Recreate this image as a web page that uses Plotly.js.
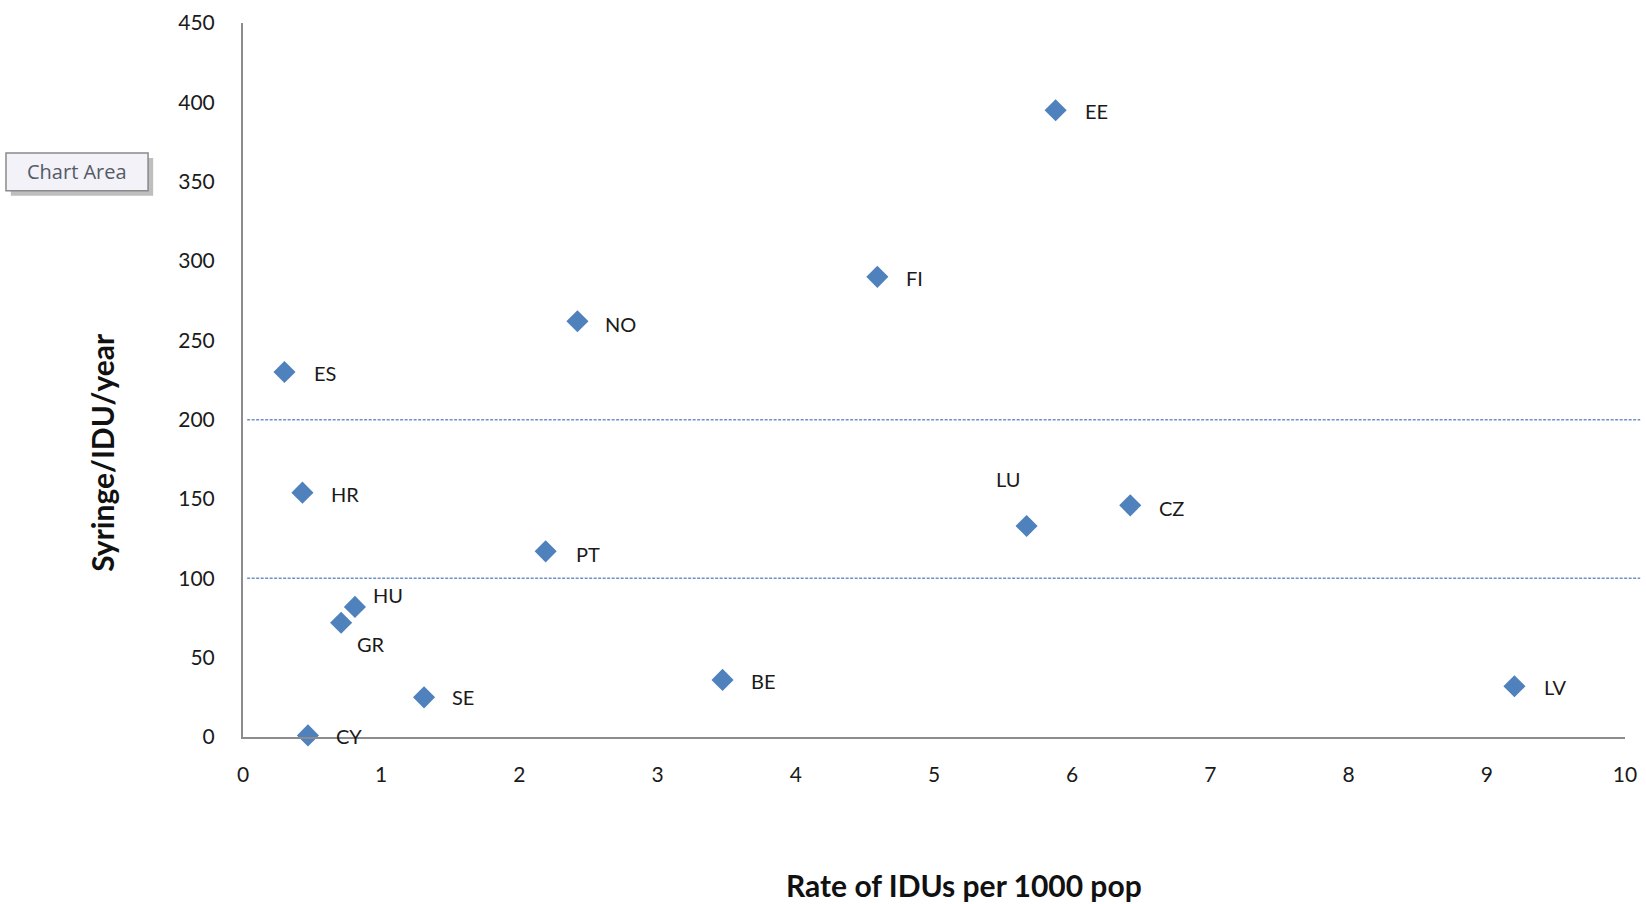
<!DOCTYPE html>
<html>
<head>
<meta charset="utf-8">
<script src="https://cdn.plot.ly/plotly-3.0.1.min.js"></script>
<style>html,body{margin:0;padding:0;background:#fff;}#chart{width:1646px;height:904px;}</style>
</head>
<body>
<div id="chart"></div>
<script>
// Data
const countries = ["EE","FI","NO","ES","HR","PT","HU","GR","SE","CY","BE","LU","CZ","LV"];
const idusPer1000 = [5.88, 4.59, 2.42, 0.30, 0.43, 2.19, 0.81, 0.71, 1.31, 0.47, 3.47, 5.67, 6.42, 9.20];
const syringesPerIdu = [395, 290, 262, 230, 154, 117, 82, 72, 25, 1, 36, 133, 146, 32];
const thresholds = [200, 100];
const xTicks = [0,1,2,3,4,5,6,7,8,9,10];
const yTicks = [0,50,100,150,200,250,300,350,400,450];
const xTitle = "Rate of IDUs per 1000 pop";
const yTitle = "Syringe/IDU/year";

// Label placement (styling only): [xshift px, yshift px, xanchor]
const labelPlacement = {
  EE:[27,-1,"left"], FI:[27,-1,"left"], NO:[26,-3,"left"], ES:[28,-1,"left"],
  HR:[27,-1,"left"], PT:[28,-3,"left"], HU:[16,12,"left"], GR:[14,-21,"left"],
  SE:[26,0,"left"], CY:[26,-1,"left"], BE:[26,-1,"left"], LU:[-19,47,"center"],
  CZ:[27,-3,"left"], LV:[28,-1,"left"]
};

const labelFont = {family:"Lato, 'Open Sans', sans-serif", size:20, color:"#1a1a1a"};
const titleFont = {family:"Lato, sans-serif", size:30, color:"#111", weight:"bold"};

const annotations = countries.map((c,i)=>{
  const p = labelPlacement[c];
  return {x:idusPer1000[i], y:syringesPerIdu[i], xref:"x", yref:"y", text:c,
    showarrow:false, xanchor:p[2], yanchor:"middle", xshift:p[0], yshift:p[1], font:labelFont};
});

// Axis titles (positioned as in the reference)
annotations.push({xref:"paper", yref:"paper", x:0.5217, y:-0.2073, text:xTitle, showarrow:false,
  xanchor:"center", yanchor:"middle", font:titleFont});
annotations.push({xref:"paper", yref:"paper", x:-0.102, y:0.398, text:yTitle, showarrow:false,
  textangle:-90, xanchor:"center", yanchor:"middle", font:titleFont});

// "Chart Area" tooltip text
annotations.push({xref:"paper", yref:"paper", x:-0.1201, y:0.7915,
  text:"Chart Area", showarrow:false, xanchor:"center", yanchor:"middle",
  font:{family:"'Open Sans', sans-serif", size:20, color:"#555a66"}});

const shapes = thresholds.map(t=>({type:"line", xref:"paper", x0:0.003, x1:1.011, yref:"y", y0:t, y1:t,
  line:{color:"#6f92c9", width:1.5, dash:"3px,1.5px"}}));
// tooltip box shadow and box
shapes.push({type:"rect", xref:"paper", yref:"paper", x0:-0.1680, x1:-0.0650, y0:0.7580, y1:0.8110,
  fillcolor:"rgba(110,110,110,0.45)", line:{width:0}, layer:"above"});
shapes.push({type:"rect", xref:"paper", yref:"paper", x0:-0.1715, x1:-0.0687, y0:0.7650, y1:0.8180,
  fillcolor:"#f2f2f8", line:{color:"#8a8a8a", width:1.5}, layer:"above"});

const trace = {
  type:"scatter", mode:"markers", x:idusPer1000, y:syringesPerIdu, text:countries,
  marker:{symbol:"diamond", size:17, color:"#4f81bd"}, hoverinfo:"text+x+y", cliponaxis:false
};

const tickFont = {family:"Lato, 'Open Sans', sans-serif", size:21, color:"#1a1a1a"};

const layout = {
  width:1646, height:904,
  margin:{l:243, r:21, t:23, b:167},
  paper_bgcolor:"#ffffff", plot_bgcolor:"#ffffff",
  showlegend:false,
  xaxis:{range:[0,10], tickvals:xTicks, ticktext:xTicks.map(String), showgrid:false, zeroline:false,
    showline:true, linecolor:"#8c8c8c", linewidth:2, ticks:"", tickfont:tickFont, ticklabelstandoff:18,
    automargin:false},
  yaxis:{range:[0,450], tickvals:yTicks, ticktext:yTicks.map(String), showgrid:false, zeroline:false,
    showline:true, linecolor:"#8c8c8c", linewidth:2, ticks:"", tickfont:tickFont, ticklabelstandoff:22,
    automargin:false},
  shapes:shapes,
  annotations:annotations
};

Plotly.newPlot("chart", [trace], layout, {displayModeBar:false, staticPlot:true});
</script>
</body>
</html>
